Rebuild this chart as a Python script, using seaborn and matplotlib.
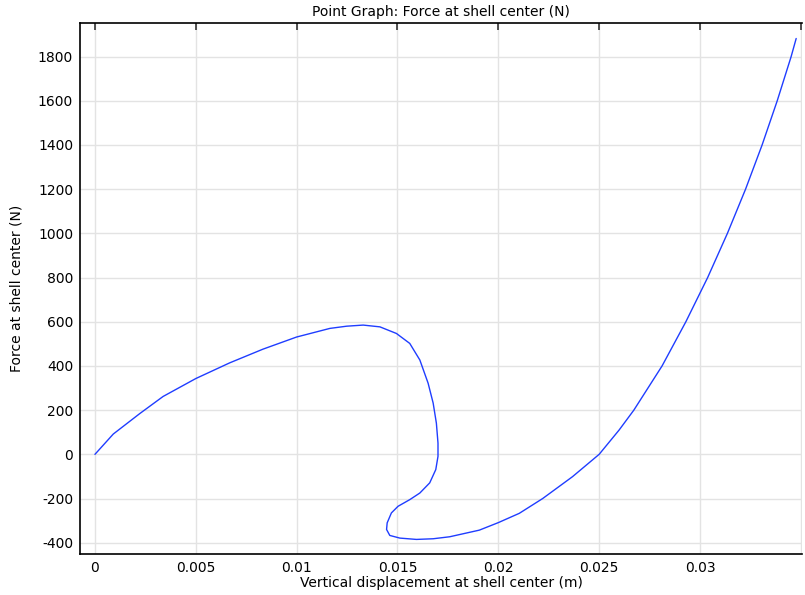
import numpy as np
import pandas as pd
import matplotlib
matplotlib.use("Agg")
import matplotlib.pyplot as plt
import seaborn as sns

# displacement (m) and force (N), in path order
disp = [0.0, 0.00091, 0.00223, 0.00338, 0.005, 0.00668, 0.00833, 0.01,
        0.01165, 0.01248, 0.0133, 0.01413, 0.01495, 0.01561, 0.01611, 0.01652,
        0.01677, 0.01693, 0.01701, 0.01701, 0.0169, 0.0166, 0.01611, 0.01561,
        0.01503, 0.0147, 0.01449, 0.01446, 0.01462, 0.01512, 0.01594, 0.01677,
        0.01759, 0.01906, 0.02, 0.02104, 0.0222, 0.02368, 0.025, 0.02599,
        0.02672, 0.02812, 0.0293, 0.03038, 0.03136, 0.03226, 0.03308, 0.03383,
        0.03452, 0.03477]
force = [0, 92, 185, 262, 343, 414, 476, 531,
         570, 580, 585, 577, 547, 502, 427, 322,
         232, 141, 51, -9, -69, -129, -175, -205,
         -235, -265, -310, -340, -367, -379, -385, -382,
         -373, -343, -309, -267, -200, -101, 0, 110,
         200, 400, 600, 800, 1000, 1200, 1400, 1600,
         1800, 1882]

x_ticks = [0, 0.005, 0.01, 0.015, 0.02, 0.025, 0.03, 0.035]
x_labels = ["0", "0.005", "0.01", "0.015", "0.02", "0.025", "0.03", ""]
y_ticks = [-400, -200, 0, 200, 400, 600, 800, 1000, 1200, 1400, 1600, 1800]

df = pd.DataFrame({"disp": disp, "force": force})

sns.set_style("white")
plt.rcParams["font.family"] = ["DejaVu Sans"]
plt.rcParams["axes.unicode_minus"] = False
plt.rcParams["text.color"] = "black"
plt.rcParams["axes.labelcolor"] = "black"
plt.rcParams["xtick.color"] = "black"
plt.rcParams["ytick.color"] = "black"

fig = plt.figure(figsize=(8.05, 5.95), dpi=100)
ax = fig.add_axes([0.0994, 0.0689, 0.8969, 0.8924])

sns.lineplot(data=df, x="disp", y="force", sort=False, estimator=None,
             color="#1f3dff", linewidth=1.0, ax=ax)
ax.lines[0].set_solid_joinstyle("round")

ax.set_xlim(-0.00074, 0.03506)
ax.set_ylim(-451, 1952)
ax.set_xticks(x_ticks)
ax.set_xticklabels(x_labels)
ax.set_yticks(y_ticks)
ax.grid(True, color="#e3e3e3", linewidth=1.0)
ax.set_axisbelow(True)

for side in ["left", "bottom", "top"]:
    ax.spines[side].set_visible(True)
    ax.spines[side].set_color("black")
    ax.spines[side].set_linewidth(1.2)
ax.spines["right"].set_visible(False)

ax.tick_params(axis="both", direction="in", length=5, width=1.2, color="#333333",
               labelsize=10, pad=5)
ax.tick_params(axis="x", top=True, labeltop=False)

ax.set_xlabel("Vertical displacement at shell center (m)", fontsize=10, labelpad=1)
ax.set_ylabel("Force at shell center (N)", fontsize=10, labelpad=10)
ax.set_title("Point Graph: Force at shell center (N)", fontsize=10, pad=5)

fig.savefig("out.png", dpi=100)
